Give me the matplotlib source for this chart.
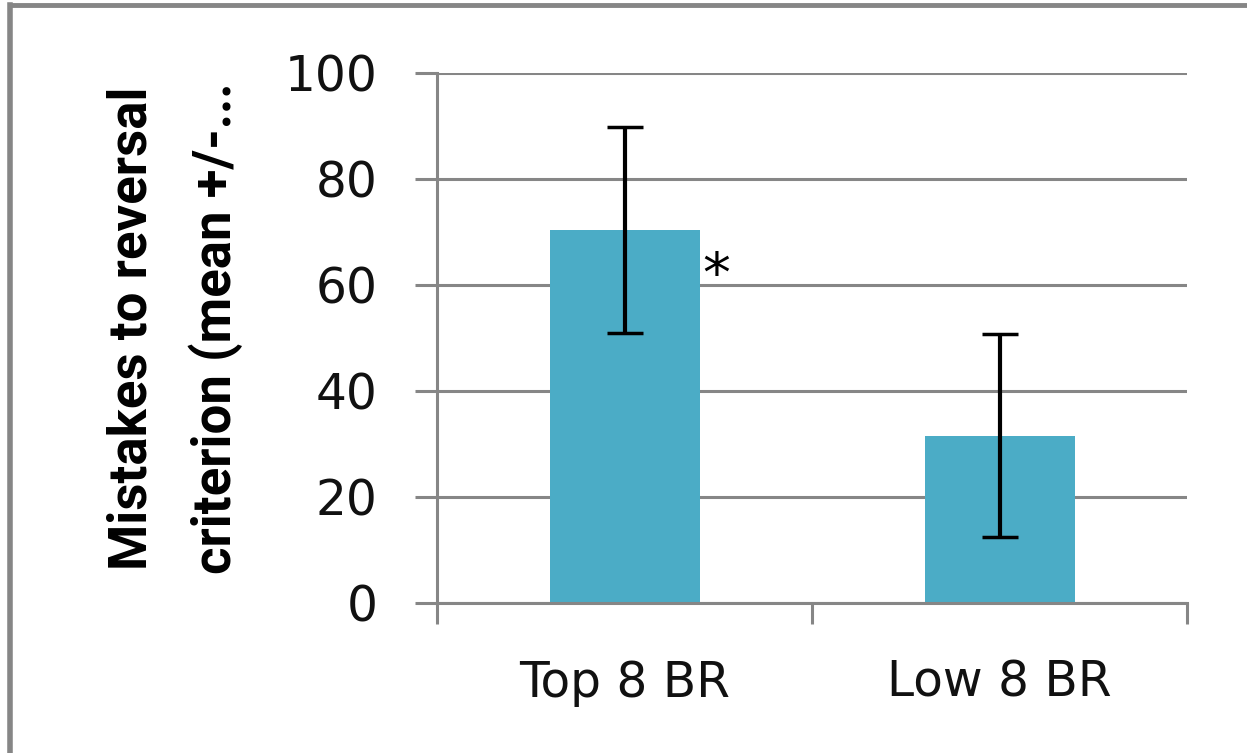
import numpy as np
import matplotlib
matplotlib.use('Agg')
import matplotlib.pyplot as plt
from matplotlib.lines import Line2D

# groups and mistakes to reversal criterion (mean and error)
grupos = ['Top 8 BR', 'Low 8 BR']
media = [70.4, 31.6]
erro = [19.5, 19.2]
ticks_y = [0, 20, 40, 60, 80, 100]

cinza = '#868686'
cor_barra = '#4BACC6'

plt.rcParams['font.family'] = ['DejaVu Sans']

fig = plt.figure(figsize=(12.47, 7.53), dpi=100)
ax = fig.add_axes([437 / 1247, 1 - 603 / 753, 750 / 1247, 530 / 753])

x = np.arange(len(grupos)) + 0.5
ax.bar(x, media, width=0.4, color=cor_barra, zorder=2)
ax.errorbar(x, media, yerr=erro, fmt='none', ecolor='black', elinewidth=3,
            capsize=13, capthick=2.5, zorder=3)

# significance mark next to the first bar
ax.text(x[0] + 0.245, 61.5, '*', fontsize=40, ha='center', va='center', color='black')

ax.set_xlim(0, len(grupos))
ax.set_ylim(0, 100)
ax.set_yticks(ticks_y)
ax.set_yticklabels([str(v) for v in ticks_y], fontsize=35, color='#111111')
ax.grid(axis='y', color=cinza, linewidth=2.2, zorder=0)
ax.tick_params(axis='y', length=16, width=2.2, color=cinza, pad=27)

# category boundaries as major ticks, labels on minor ticks
ax.set_xticks([0, 1, 2])
ax.set_xticklabels([])
ax.set_xticks(x, minor=True)
ax.set_xticklabels(grupos, minor=True, fontsize=35, color='#111111')
ax.tick_params(axis='x', which='major', length=15, width=2.2, color=cinza)
ax.tick_params(axis='x', which='minor', length=0, pad=40)

for lado in ['top', 'right']:
    ax.spines[lado].set_visible(False)
for lado in ['left', 'bottom']:
    ax.spines[lado].set_color(cinza)
    ax.spines[lado].set_linewidth(2.2)

fig.text(175 / 1247, 1 - 328 / 753, 'Mistakes to reversal\ncriterion (mean +/-...',
         rotation=90, ha='center', va='center', multialignment='center',
         family='Roboto', fontsize=38, fontweight='bold', linespacing=1.72)

# frame lines on the top and left edges
fig.add_artist(Line2D([10 / 1247, 1], [1 - 4.5 / 753, 1 - 4.5 / 753],
                      transform=fig.transFigure, color=cinza, linewidth=3.5))
fig.add_artist(Line2D([10 / 1247, 10 / 1247], [0, 1 - 4.5 / 753],
                      transform=fig.transFigure, color=cinza, linewidth=4))

fig.savefig('out.png', dpi=100)
